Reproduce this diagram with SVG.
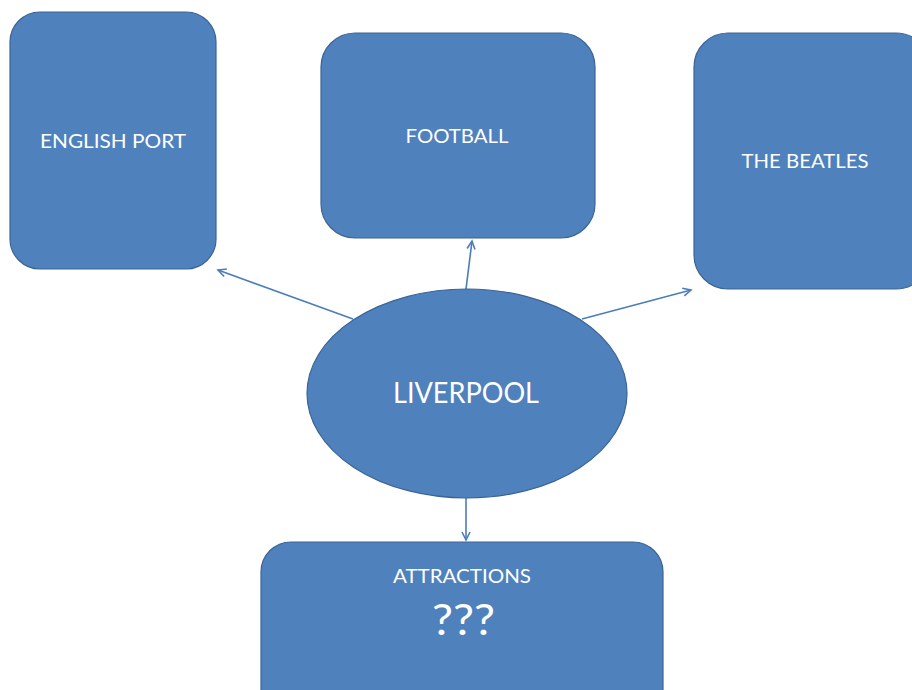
<svg xmlns="http://www.w3.org/2000/svg" width="912" height="690" viewBox="0 0 912 690">
<style>
.box{fill:#4f81bd;stroke:#3a6496;stroke-width:1.2}
.lbl{fill:#ffffff;font-family:Lato,"Open Sans","Liberation Sans",sans-serif;text-anchor:middle}
.con{stroke:#4a7ebb;stroke-width:1.6;fill:none;marker-end:url(#arr)}
</style>
<defs>
<marker id="arr" markerWidth="12" markerHeight="12" refX="9" refY="5" orient="auto" markerUnits="userSpaceOnUse">
<path d="M1,1 L9,5 L1,9" fill="none" stroke="#4a7ebb" stroke-width="1.6"/>
</marker>
</defs>
<rect width="912" height="690" fill="#ffffff"/>
<g id="connectors">
<line class="con" x1="353" y1="319" x2="218" y2="270"/>
<line class="con" x1="466" y1="289" x2="472" y2="241"/>
<line class="con" x1="582" y1="319" x2="691" y2="290"/>
<line class="con" x1="466" y1="498" x2="466" y2="540"/>
</g>
<g id="english-port">
<rect class="box" x="10" y="12" width="206" height="257" rx="30" ry="30"/>
<text class="lbl" x="113" y="148" font-size="20" textLength="146" lengthAdjust="spacingAndGlyphs">ENGLISH PORT</text>
</g>
<g id="football">
<rect class="box" x="321" y="33" width="274" height="205" rx="34" ry="34"/>
<text class="lbl" x="457" y="143" font-size="20" textLength="103" lengthAdjust="spacingAndGlyphs">FOOTBALL</text>
</g>
<g id="the-beatles">
<rect class="box" x="694" y="33" width="236" height="256" rx="34" ry="34"/>
<text class="lbl" x="805" y="168" font-size="20" textLength="127" lengthAdjust="spacingAndGlyphs">THE BEATLES</text>
</g>
<g id="liverpool">
<ellipse class="box" cx="467" cy="393.5" rx="160" ry="104.5"/>
<text class="lbl" x="466" y="403" font-size="28" textLength="146" lengthAdjust="spacingAndGlyphs">LIVERPOOL</text>
</g>
<g id="attractions">
<rect class="box" x="261" y="542" width="402" height="180" rx="30" ry="30"/>
<text class="lbl" x="462" y="583" font-size="20" textLength="138" lengthAdjust="spacingAndGlyphs">ATTRACTIONS</text>
<text class="lbl" x="463.5" y="635" font-size="43" textLength="63" lengthAdjust="spacingAndGlyphs">???</text>
</g>
</svg>
